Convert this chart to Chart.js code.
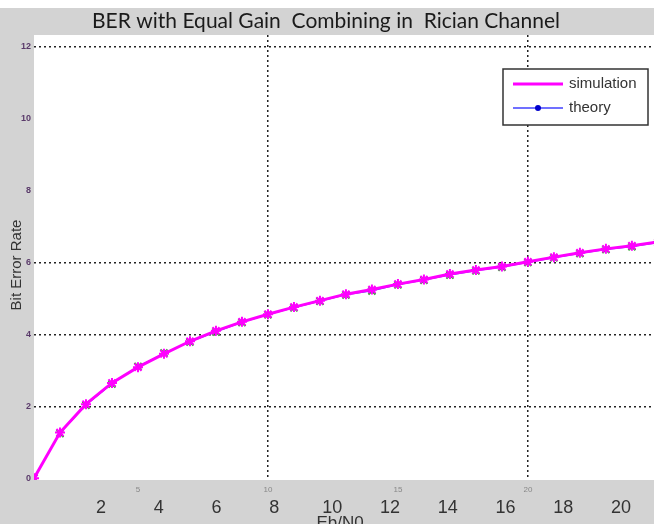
<!DOCTYPE html>
<html>
<head>
<meta charset="utf-8">
<script src="https://cdn.jsdelivr.net/npm/chart.js@4.4.0/dist/chart.umd.min.js"></script>
<style>
  html, body { margin: 0; padding: 0; background: #d3d3d3; }
  #wrap { width: 654px; height: 524px; position: relative; }
</style>
</head>
<body>
<div id="wrap"><canvas id="berChart" width="654" height="524"></canvas></div>
<script>
'use strict';

// Eb/N0 points (dB) and BER curves
var ebNo = [1, 2, 3, 4, 5, 6, 7, 8, 9, 10, 11, 12, 13, 14, 15, 16, 17, 18, 19, 20, 21, 22, 23, 24, 25];
var simulation = [0, 1.27, 2.06, 2.65, 3.09, 3.46, 3.81, 4.10, 4.35, 4.56, 4.76, 4.94, 5.12, 5.25, 5.40,
  5.53, 5.68, 5.79, 5.89, 6.02, 6.15, 6.27, 6.38, 6.47, 6.57];
var theory = [0, 1.24, 2.03, 2.62, 3.11, 3.48, 3.79, 4.07, 4.33, 4.55, 4.74, 4.92, 5.10, 5.21, 5.38,
  5.51, 5.65, 5.77, 5.87, 6.00, 6.13, 6.25, 6.36, 6.44, 6.55];

// tick labels
var yTicks = [0, 2, 4, 6, 8, 10, 12];
var xTicks = [5, 10, 15, 20];
var xOverlayTicks = [2, 4, 6, 8, 10, 12, 14, 16, 18, 20];

var titleText = 'BER with Equal Gain  Combining in  Rician Channel';
var legendNames = ['simulation', 'theory'];

function toPoints(values) {
  return values.map(function(v, i) { return { x: ebNo[i], y: v }; });
}

function setTicks(list) {
  return function(scale) {
    scale.ticks = list.map(function(v) { return { value: v }; });
  };
}

function fitHeight(h) {
  return function(scale) {
    scale.height = h;
    scale.paddingLeft = 0;
    scale.paddingRight = 0;
  };
}

/**
 * Background, page title, axis titles and the legend box.
 */
var decorPlugin = {
  id: 'decor',
  beforeDraw: function(chart) {
    var ctx = chart.ctx;
    var area = chart.chartArea;
    ctx.save();
    ctx.fillStyle = '#d3d3d3';
    ctx.fillRect(0, 0, chart.width, chart.height);
    ctx.fillStyle = '#ffffff';
    ctx.fillRect(0, 0, chart.width, 8);
    ctx.fillRect(area.left, area.top, area.right - area.left, area.bottom - area.top);
    ctx.restore();
  },
  afterDraw: function(chart) {
    var ctx = chart.ctx;
    ctx.save();

    // title
    ctx.fillStyle = '#1a1a1a';
    ctx.font = '21px Lato, "Open Sans", sans-serif';
    ctx.textAlign = 'center';
    ctx.textBaseline = 'middle';
    ctx.fillText(titleText, 326, 21);

    // y axis title
    ctx.save();
    ctx.translate(17, 265);
    ctx.rotate(-Math.PI / 2);
    ctx.font = '15px "Liberation Sans", Arial, sans-serif';
    ctx.fillStyle = '#333';
    ctx.fillText('Bit Error Rate', 0, 0);
    ctx.restore();

    // x axis title (cut by the bottom edge)
    ctx.font = '17px "Liberation Sans", Arial, sans-serif';
    ctx.fillStyle = '#333';
    ctx.textBaseline = 'top';
    ctx.fillText('Eb/N0', 340, 515);

    // legend
    ctx.fillStyle = '#ffffff';
    ctx.fillRect(503, 69, 145, 56);
    ctx.strokeStyle = '#333';
    ctx.lineWidth = 1.5;
    ctx.strokeRect(503, 69, 145, 56);

    ctx.lineWidth = 3;
    ctx.strokeStyle = '#ff00ff';
    ctx.beginPath();
    ctx.moveTo(513, 84);
    ctx.lineTo(563, 84);
    ctx.stroke();

    ctx.lineWidth = 1.5;
    ctx.strokeStyle = '#4040ff';
    ctx.beginPath();
    ctx.moveTo(513, 108);
    ctx.lineTo(563, 108);
    ctx.stroke();
    ctx.fillStyle = '#0000cc';
    ctx.beginPath();
    ctx.arc(538, 108, 3, 0, Math.PI * 2);
    ctx.fill();

    ctx.fillStyle = '#333';
    ctx.font = '15px "Liberation Sans", Arial, sans-serif';
    ctx.textAlign = 'left';
    ctx.textBaseline = 'middle';
    ctx.fillText(legendNames[0], 569, 84);
    ctx.fillText(legendNames[1], 569, 108);

    ctx.restore();
  }
};

var ctx = document.getElementById('berChart').getContext('2d');
var berChart = new Chart(ctx, {
  type: 'line',
  data: {
    datasets: [
      {
        label: legendNames[0],
        data: toPoints(simulation),
        borderColor: '#ff00ff',
        backgroundColor: '#ff00ff',
        borderWidth: 3,
        pointStyle: 'star',
        pointRadius: 5,
        pointBorderWidth: 2,
        pointBorderColor: '#ff00ff',
        tension: 0,
        order: 0
      },
      {
        label: legendNames[1],
        data: toPoints(theory),
        borderColor: '#4040ff',
        backgroundColor: '#33aa33',
        borderWidth: 1,
        pointStyle: 'crossRot',
        pointRadius: 5,
        pointBorderWidth: 2,
        pointBorderColor: '#33aa33',
        tension: 0,
        order: 1
      }
    ]
  },
  options: {
    responsive: false,
    animation: false,
    layout: { autoPadding: false, padding: { top: 35, left: 0, right: 0, bottom: 0 } },
    plugins: {
      legend: { display: false },
      tooltip: { enabled: false },
      title: { display: false }
    },
    scales: {
      x: {
        type: 'linear',
        position: 'bottom',
        min: 1,
        max: 24.85,
        afterBuildTicks: setTicks(xTicks),
        afterFit: fitHeight(14),
        grid: {
          color: function(c) { return c.tick && c.tick.value % 10 === 0 ? '#222' : 'rgba(0,0,0,0)'; },
          lineWidth: 1.5,
          drawTicks: false
        },
        border: { display: false, dash: [2, 3] },
        ticks: {
          padding: 5,
          color: '#888',
          font: { size: 8, family: '"Liberation Sans", Arial, sans-serif' }
        }
      },
      x2: {
        type: 'linear',
        position: 'bottom',
        min: -0.32,
        max: 21.14,
        afterBuildTicks: setTicks(xOverlayTicks),
        afterFit: fitHeight(30),
        grid: { display: false, drawTicks: false },
        border: { display: false },
        ticks: {
          padding: 3,
          color: '#333',
          font: { size: 18, family: '"Liberation Sans Narrow", "Liberation Sans", Arial, sans-serif' }
        }
      },
      y: {
        type: 'linear',
        min: -0.05,
        max: 12.33,
        afterBuildTicks: setTicks(yTicks),
        afterFit: function(scale) { scale.width = 34; },
        grid: {
          color: function(c) {
            var v = c.tick && c.tick.value;
            return (v === 2 || v === 4 || v === 6 || v === 12) ? '#222' : 'rgba(0,0,0,0)';
          },
          lineWidth: 1.5,
          drawTicks: false
        },
        border: { display: false, dash: [2, 3] },
        ticks: {
          padding: 3,
          color: '#5a3a6a',
          font: { size: 9, weight: 'bold', family: '"Liberation Sans", Arial, sans-serif' }
        }
      }
    }
  },
  plugins: [decorPlugin]
});
</script>
</body>
</html>
